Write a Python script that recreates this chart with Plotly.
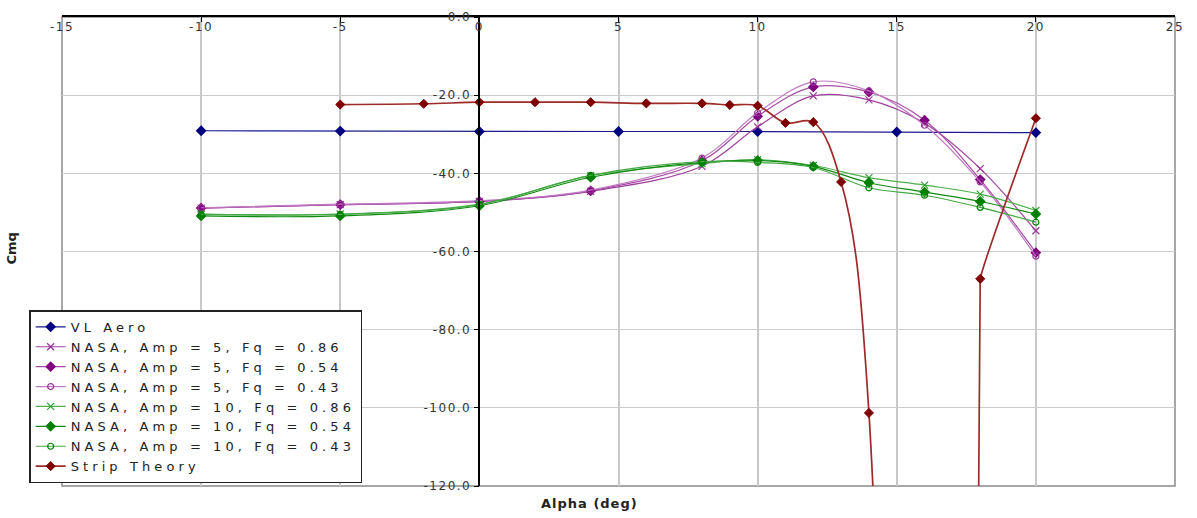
import plotly.graph_objects as go

# Pitch-damping derivative Cmq versus angle of attack

alpha_vl = [-10, -5, 0, 5, 10, 15, 20]
cmq_vl = [-29.1, -29.2, -29.3, -29.3, -29.3, -29.4, -29.6]

alpha_nasa = [-10, -5, 0, 4, 8, 10, 12, 14, 16, 18, 20]
cmq_a5_f086 = [-48.9, -48.0, -47.2, -44.6, -38.2, -28.1, -20.2, -21.2, -27.2, -38.8, -54.7]
cmq_a5_f054 = [-48.9, -48.0, -47.2, -44.5, -36.8, -25.4, -17.9, -19.2, -26.4, -41.6, -60.3]
cmq_a5_f043 = [-48.8, -47.9, -47.0, -44.3, -36.1, -24.5, -16.6, -18.9, -27.7, -42.2, -61.2]
cmq_a10_f086 = [-50.4, -50.4, -47.9, -40.6, -37.5, -36.5, -38.0, -41.1, -43.0, -45.3, -49.5]
cmq_a10_f054 = [-50.9, -50.9, -48.3, -41.0, -37.2, -36.7, -38.2, -42.4, -44.8, -47.2, -50.4]
cmq_a10_f043 = [-50.5, -50.5, -48.0, -40.5, -37.0, -37.2, -38.5, -43.7, -45.6, -48.7, -52.5]

# strip theory diverges past stall; the 16 deg value lies far below the axis
alpha_strip = [-5, -2, 0, 2, 4, 6, 8, 9, 10, 11, 12, 13, 14, 16, 18, 20]
cmq_strip = [-22.4, -22.2, -21.8, -21.8, -21.8, -22.1, -22.1, -22.5, -22.7,
             -27.1, -26.9, -42.2, -101.3, -2000.0, -67.0, -25.9]

x_ticks = [-15, -10, -5, 0, 5, 10, 15, 20, 25]
y_ticks = [0, -20, -40, -60, -80, -100, -120]

FONT = "DejaVu Sans"


def spaced(text, px):
    return f'<span style="letter-spacing:{px}px">{text}</span>'


series = [
    ("VL Aero", alpha_vl, cmq_vl, "#1a1a8c", "#000080", "diamond", 7, "linear"),
    ("NASA, Amp = 5, Fq = 0.86", alpha_nasa, cmq_a5_f086, "#a040a0", "#993399", "x-thin", 7, "spline"),
    ("NASA, Amp = 5, Fq = 0.54", alpha_nasa, cmq_a5_f054, "#a64ca6", "#800080", "diamond", 7, "spline"),
    ("NASA, Amp = 5, Fq = 0.43", alpha_nasa, cmq_a5_f043, "#c27ac2", "#993399", "circle-open", 6, "spline"),
    ("NASA, Amp = 10, Fq = 0.86", alpha_nasa, cmq_a10_f086, "#4caf4c", "#33a033", "x-thin", 7, "spline"),
    ("NASA, Amp = 10, Fq = 0.54", alpha_nasa, cmq_a10_f054, "#108a10", "#008000", "diamond", 7, "spline"),
    ("NASA, Amp = 10, Fq = 0.43", alpha_nasa, cmq_a10_f043, "#44a844", "#008000", "circle-open", 6, "spline"),
]

LEGEND_SPACING = 4.1

fig = go.Figure()
for name, xs, ys, lcol, mcol, sym, size, shape in series:
    fig.add_trace(go.Scatter(
        x=xs, y=ys, name=spaced(name, LEGEND_SPACING), mode="lines+markers",
        line=dict(color=lcol, width=1.2, shape=shape, smoothing=1),
        marker=dict(symbol=sym, size=size, color=mcol, line=dict(color=mcol, width=1.2)),
    ))

# strip theory: pre-stall branch down to 16 deg, post-stall branch from 16 deg
split = alpha_strip.index(16)
strip_line = dict(color="#9e2a2a", width=1.7, shape="spline")
strip_marker = dict(symbol="diamond", size=7, color="#800000", line=dict(color="#800000", width=1))
fig.add_trace(go.Scatter(
    x=alpha_strip[:split + 1], y=cmq_strip[:split + 1], name=spaced("Strip Theory", LEGEND_SPACING),
    mode="lines+markers", legendgroup="strip",
    line=dict(strip_line, smoothing=1), marker=strip_marker,
))
fig.add_trace(go.Scatter(
    x=alpha_strip[split:], y=cmq_strip[split:], name="Strip Theory", showlegend=False,
    mode="lines+markers", legendgroup="strip",
    line=dict(strip_line, smoothing=0.15), marker=strip_marker,
))

fig.update_layout(
    width=1197, height=518,
    margin=dict(l=62, r=22, t=10, b=32),
    paper_bgcolor="white", plot_bgcolor="white",
    font=dict(family=FONT, size=13, color="#333333"),
    showlegend=True,
    legend=dict(
        x=-0.0295, y=0.19, xanchor="left", yanchor="middle",
        bgcolor="white", bordercolor="#222222", borderwidth=1.5,
        font=dict(family=FONT, size=13, color="#222222"),
        tracegroupgap=0, itemwidth=30,
    ),
    xaxis=dict(
        range=[-15, 25], tickvals=x_ticks, ticktext=[spaced(str(v), 1.5) for v in x_ticks],
        side="top", ticklabelposition="inside", ticklabeloverflow="allow",
        ticks="inside", ticklen=5, tickcolor="black",
        showline=True, linecolor="black", linewidth=1.5,
        showgrid=True, gridcolor="#c8c8c8", gridwidth=2, zeroline=False,
        tickfont=dict(family=FONT, size=12, color="#333333"),
    ),
    yaxis=dict(
        range=[-120, 0], tickvals=y_ticks, ticktext=[spaced(f"{v:.1f}", 1.5) for v in y_ticks],
        anchor="free", position=0.375, side="left", ticklabeloverflow="allow",
        ticks="outside", ticklen=5, tickcolor="black",
        showline=True, linecolor="black", linewidth=1.5,
        showgrid=True, gridcolor="#cccccc", gridwidth=1, zeroline=False,
        tickfont=dict(family=FONT, size=12, color="#333333"),
    ),
    shapes=[dict(type="rect", xref="paper", yref="paper", x0=0, x1=1, y0=0, y1=1,
                 line=dict(color="#8a8a8a", width=1.5), layer="below")],
    annotations=[
        dict(text="<b>" + spaced("Alpha (deg)", 1) + "</b>", xref="paper", yref="paper",
             x=0.474, y=0, yshift=-17, xanchor="center", yanchor="middle", showarrow=False,
             font=dict(family=FONT, size=13, color="#222222")),
        dict(text="<b>Cmq</b>", xref="paper", yref="paper", x=-0.045, y=0.506,
             textangle=-90, xanchor="center", yanchor="middle", showarrow=False,
             font=dict(family=FONT, size=13, color="#222222")),
    ],
)

fig.write_html("out.html")
